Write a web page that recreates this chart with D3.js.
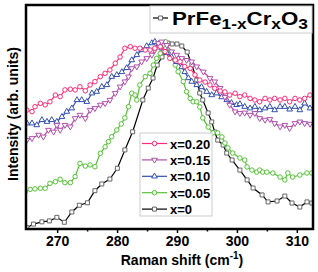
<!DOCTYPE html>
<html>
<head>
<meta charset="utf-8">
<script src="https://cdn.jsdelivr.net/npm/d3@7"></script>
<style>
  body { margin: 0; background: #fff; }
  text { font-family: Arial, "Liberation Sans", sans-serif; font-weight: bold; }
</style>
</head>
<body>
<div id="chart"></div>
<script>
/* data: [Raman shift, intensity (arb.)] */
var seriesNames = ["x=0.20", "x=0.15", "x=0.10", "x=0.05", "x=0"];
var xTicks = [270, 280, 290, 300, 310];

var pink20 = [[264.95,53.1],[265.8,52.4],[266.3,54.6],[267.2,56.1],[268.0,55.4],[268.8,56.8],[269.7,59.8],[270.5,59.1],[271.3,62.1],[272.2,62.4],[273.0,62.1],[273.8,63.5],[274.7,61.7],[275.5,64.3],[276.3,65.8],[277.2,68.0],[278.0,69.5],[278.8,71.0],[279.7,74.0],[280.5,76.8],[281.3,80.7],[282.2,81.4],[283.0,80.7],[283.8,80.7],[284.7,79.9],[285.5,79.9],[286.3,80.7],[287.2,81.4],[288.0,79.2],[288.8,76.2],[289.7,75.4],[290.5,74.7],[291.3,72.5],[292.2,71.7],[293.0,68.8],[293.8,66.5],[294.7,65.6],[295.5,64.3],[296.3,62.8],[297.2,61.6],[298.0,61.2],[298.8,59.8],[299.7,60.6],[300.5,59.1],[301.3,59.8],[302.2,58.3],[303.0,57.6],[303.8,56.8],[304.7,58.3],[305.5,57.6],[306.3,58.3],[307.2,57.6],[308.0,58.3],[308.8,56.8],[309.7,58.3],[310.5,57.6],[311.3,58.3],[312.2,59.8]];

var purple15 = [[264.95,39.7],[265.8,40.5],[266.9,42.0],[267.7,41.2],[268.55,44.2],[269.4,43.4],[269.95,46.4],[270.5,44.2],[271.3,46.4],[272.2,45.7],[273.0,49.4],[273.8,50.9],[274.7,49.4],[275.5,53.1],[276.3,53.9],[277.2,55.4],[278.0,56.1],[278.8,57.6],[279.7,60.6],[280.5,63.5],[281.3,65.8],[281.9,68.0],[282.45,71.7],[283.3,72.5],[284.1,74.7],[284.95,76.2],[285.8,77.7],[286.3,79.9],[286.9,82.9],[287.45,83.6],[288.3,82.1],[289.1,79.2],[289.95,77.7],[290.8,76.2],[291.6,75.4],[292.45,74.7],[293.3,72.5],[294.4,70.2],[295.5,67.3],[296.3,65.8],[297.2,62.9],[298.0,58.9],[298.8,55.4],[299.7,52.4],[300.5,51.7],[301.3,51.9],[302.2,50.9],[303.0,51.7],[303.8,49.4],[304.7,48.7],[305.5,49.0],[306.3,47.2],[307.2,45.7],[308.0,46.4],[308.8,45.0],[309.7,47.2],[310.5,47.9],[311.3,47.2],[312.2,46.9]];

var blue10 = [[264.95,47.2],[265.8,47.2],[266.6,46.4],[267.45,48.7],[268.3,47.9],[269.1,48.7],[269.95,47.9],[270.8,50.1],[271.6,52.4],[272.45,53.9],[273.3,57.6],[274.1,57.6],[274.95,56.8],[275.8,60.6],[276.6,61.3],[277.45,63.5],[278.3,64.3],[279.1,68.0],[279.95,68.8],[280.8,70.1],[281.6,71.9],[282.45,75.4],[283.3,77.7],[284.1,79.9],[284.95,81.7],[285.8,83.0],[286.3,83.6],[286.9,82.6],[287.45,80.7],[288.3,78.6],[289.1,76.8],[289.95,74.6],[290.8,72.3],[291.3,70.1],[291.9,67.4],[292.45,65.8],[293.3,64.3],[294.1,63.4],[294.95,61.3],[295.8,59.8],[296.6,60.6],[297.45,58.9],[298.3,57.6],[299.1,56.3],[299.95,55.4],[300.5,55.8],[301.3,54.6],[302.2,53.9],[303.0,54.6],[303.8,53.1],[304.7,53.9],[305.5,54.6],[306.3,53.1],[307.2,54.6],[308.0,54.6],[308.8,53.4],[309.7,54.6],[310.5,53.1],[311.3,56.1],[312.2,53.9]];

var green05 = [[264.67,16.7],[265.5,17.7],[266.3,17.9],[267.2,18.2],[268.0,18.2],[268.8,20.4],[269.7,21.1],[270.5,22.2],[271.3,20.7],[272.2,20.7],[273.0,23.4],[273.8,29.3],[274.7,28.1],[275.5,28.6],[276.3,27.8],[277.2,33.8],[278.0,36.7],[278.55,39.0],[279.1,41.2],[279.95,44.2],[280.7,46.9],[281.3,49.6],[281.9,54.6],[282.45,60.6],[283.0,59.8],[283.3,57.6],[283.8,64.3],[284.7,68.0],[285.5,69.5],[286.05,73.2],[286.6,76.2],[287.2,78.4],[287.7,82.1],[288.1,83.6],[288.8,77.7],[289.7,73.2],[290.2,70.2],[291.05,65.8],[291.6,61.3],[292.2,58.3],[292.7,56.8],[293.3,56.8],[293.8,54.5],[294.3,49.6],[295.2,45.5],[296.0,42.9],[296.8,42.9],[297.5,41.1],[298.0,38.4],[298.5,36.2],[299.3,33.9],[300.5,31.7],[301.3,30.8],[301.7,27.7],[302.5,26.3],[303.3,25.4],[303.8,26.3],[304.3,25.4],[305.0,25.4],[306.0,25.0],[307.2,23.2],[308.0,21.9],[308.5,25.0],[309.3,23.2],[310.5,24.1],[311.7,25.0],[312.5,25.0]];

var black0 = [[264.95,0.6],[266.05,2.2],[267.45,3.2],[268.7,3.6],[269.95,5.2],[271.2,3.0],[272.45,7.6],[273.7,10.6],[275.05,11.7],[276.3,17.1],[277.45,20.1],[278.8,22.3],[280.05,27.1],[281.3,35.3],[282.6,43.4],[284.3,57.6],[285.2,62.9],[286.0,67.4],[286.7,73.2],[287.5,76.8],[288.0,80.8],[288.5,83.0],[289.2,82.6],[290.0,82.6],[290.8,81.7],[291.7,79.0],[292.5,73.2],[293.3,66.5],[293.8,60.7],[294.3,57.6],[295.2,51.8],[295.8,47.8],[296.3,43.3],[296.8,39.7],[297.7,37.5],[298.3,33.9],[299.2,30.8],[300.5,26.3],[301.7,21.9],[302.7,18.3],[304.2,15.2],[305.2,12.1],[306.7,12.5],[308.0,14.7],[309.2,11.6],[310.5,9.8],[311.7,12.1],[312.5,11.6]];

var W = 318, H = 272;
var margin = {left: 26, right: 5, top: 5, bottom: 43};

var svg = d3.select("#chart").append("svg")
	.attr("width", W).attr("height", H);

var x = d3.scaleLinear().domain([264.8, 312.7]).range([margin.left, W - margin.right]);
var y = d3.scaleLinear().domain([0, 100]).range([H - margin.bottom, margin.top]);

svg.append("clipPath").attr("id", "clip")
	.append("rect")
	.attr("x", margin.left).attr("y", margin.top)
	.attr("width", W - margin.left - margin.right)
	.attr("height", H - margin.top - margin.bottom);

var series = [
	{name: seriesNames[4], data: black0, color: "#000000", mark: "square", mstroke: "#666"},
	{name: seriesNames[3], data: green05, color: "#55c236", mark: "circle"},
	{name: seriesNames[2], data: blue10, color: "#3350b0", mark: "triangle"},
	{name: seriesNames[1], data: purple15, color: "#b24fae", mark: "triangleDown"},
	{name: seriesNames[0], data: pink20, color: "#ff2a78", mark: "circle"}
];

var symbolType = {
	square: d3.symbolSquare, circle: d3.symbolCircle,
	triangle: d3.symbolTriangle, triangleDown: d3.symbolTriangle
};
var symbolSize = {square: 16, circle: 16, triangle: 14, triangleDown: 14};

function drawMark(sel, s) {
	sel.append("path")
		.attr("d", d3.symbol().type(symbolType[s.mark]).size(symbolSize[s.mark]))
		.attr("fill", "#fff")
		.attr("stroke", s.mstroke || s.color)
		.attr("stroke-width", 1);
}

var line = d3.line().x(function(d) { return x(d[0]); }).y(function(d) { return y(d[1]); });

var plot = svg.append("g").attr("clip-path", "url(#clip)");

series.forEach(function(s) {
	var g = plot.append("g");
	g.append("path").datum(s.data)
		.attr("d", line)
		.attr("fill", "none")
		.attr("stroke", s.color)
		.attr("stroke-width", 1.2);
	g.selectAll("g.pt").data(s.data).enter().append("g")
		.attr("class", "pt")
		.attr("transform", function(d) {
			var r = s.mark == "triangleDown" ? " rotate(180)" : "";
			return "translate(" + x(d[0]) + "," + y(d[1]) + ")" + r;
		})
		.each(function() { drawMark(d3.select(this), s); });
});

/* axes */
var xAxis = svg.append("g")
	.attr("transform", "translate(0," + (H - margin.bottom) + ")")
	.call(d3.axisBottom(x).tickValues(xTicks).tickSize(4).tickSizeOuter(0).tickPadding(3));
xAxis.select(".domain").remove();
xAxis.selectAll("line").attr("stroke-width", 1.5);
xAxis.selectAll("text").attr("font-size", 14).attr("font-weight", "bold").attr("fill", "#000")
	.attr("font-family", "Arial, 'Liberation Sans', sans-serif");

var minor = svg.append("g")
	.attr("transform", "translate(0," + (H - margin.bottom) + ")")
	.call(d3.axisBottom(x).tickValues([275, 285, 295, 305]).tickSize(2.5).tickFormat(""));
minor.select(".domain").remove();
minor.selectAll("line").attr("stroke-width", 1.5);

svg.append("rect")
	.attr("x", margin.left).attr("y", margin.top)
	.attr("width", W - margin.left - margin.right)
	.attr("height", H - margin.top - margin.bottom)
	.attr("fill", "none").attr("stroke", "#000").attr("stroke-width", 2.5);

/* axis titles */
var xl = svg.append("text").attr("x", 182).attr("y", 265)
	.attr("text-anchor", "middle").attr("font-size", 14);
xl.append("tspan").text("Raman shift (cm");
xl.append("tspan").attr("font-size", 10).attr("dy", -6).text("-1");
xl.append("tspan").attr("dy", 6).text(")");

svg.append("text")
	.attr("transform", "translate(18,114) rotate(-90)")
	.attr("text-anchor", "middle").attr("font-size", 14)
	.text("Intensity (arb. units)");

/* top legend */
svg.append("rect").attr("x", 150).attr("y", 6).attr("width", 162).attr("height", 27)
	.attr("fill", "#fff").attr("stroke", "#ccc").attr("stroke-width", 1);
svg.append("line").attr("x1", 153).attr("x2", 168).attr("y1", 18).attr("y2", 18)
	.attr("stroke", "#000").attr("stroke-width", 1.2);
drawMark(svg.append("g").attr("transform", "translate(160.5,18)"), series[0]);
var tt = svg.append("text").attr("x", 172).attr("y", 25).attr("font-size", 18)
	.attr("textLength", 136).attr("lengthAdjust", "spacingAndGlyphs");
tt.append("tspan").text("PrFe");
tt.append("tspan").attr("font-size", 14).attr("dy", 4).text("1-x");
tt.append("tspan").attr("dy", -4).text("Cr");
tt.append("tspan").attr("font-size", 14).attr("dy", 4).text("x");
tt.append("tspan").attr("dy", -4).text("O");
tt.append("tspan").attr("font-size", 14).attr("dy", 4).text("3");

/* series legend */
var legendSeries = series.slice().reverse();
svg.append("rect").attr("x", 140).attr("y", 133).attr("width", 72).attr("height", 83)
	.attr("fill", "#fff").attr("stroke", "#ccc").attr("stroke-width", 1);
var leg = svg.selectAll("g.leg").data(legendSeries).enter().append("g")
	.attr("class", "leg")
	.attr("transform", function(d, i) { return "translate(0," + (143.5 + i * 16.4) + ")"; });
leg.append("line").attr("x1", 142).attr("x2", 167).attr("y1", 0).attr("y2", 0)
	.attr("stroke", function(d) { return d.color; }).attr("stroke-width", 1.2);
leg.each(function(d) {
	var r = d.mark == "triangleDown" ? " rotate(180)" : "";
	drawMark(d3.select(this).append("g").attr("transform", "translate(154.5,0)" + r), d);
});
leg.append("text").attr("x", 170).attr("y", 5).attr("font-size", 13)
	.text(function(d) { return d.name; });
</script>
</body>
</html>
